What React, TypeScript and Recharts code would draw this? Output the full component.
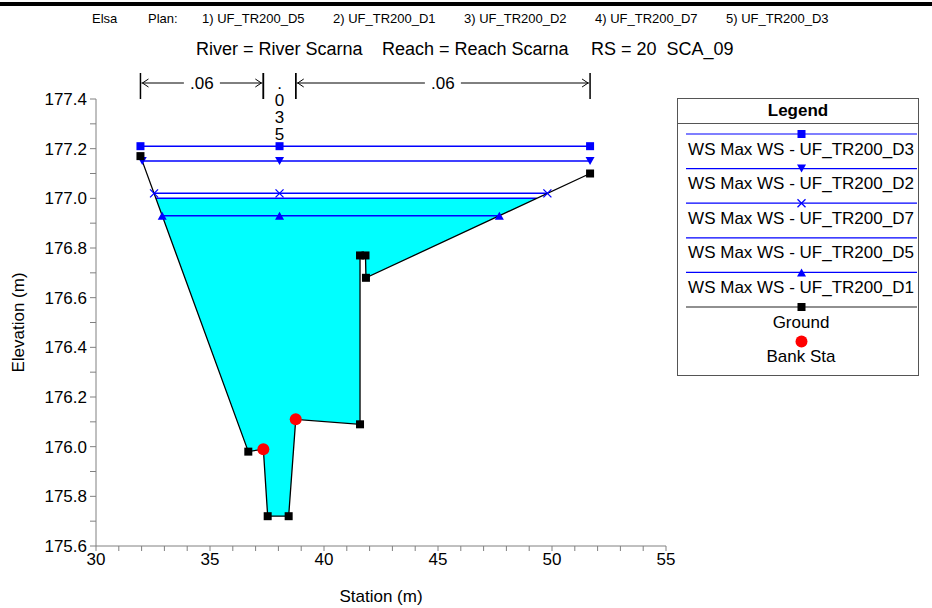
import React from 'react';
import { ComposedChart, Line, Area, XAxis, YAxis, ReferenceLine } from 'recharts';

const FONT = 'Arial, "Liberation Sans", sans-serif';

const planNames = ['UF_TR200_D5', 'UF_TR200_D1', 'UF_TR200_D2', 'UF_TR200_D7', 'UF_TR200_D3'];

// ground survey points: station (m) / elevation (m)
const groundStations = [31.95, 36.68, 37.34, 37.53, 38.45, 38.76, 41.58, 41.58, 41.82, 41.84, 51.67];
const groundElevations = [177.17, 175.98, 175.99, 175.72, 175.72, 176.11, 176.09, 176.77, 176.77, 176.68, 177.1];
const bankStations = [37.34, 38.76];

// max water surface of each plan, in legend order
const wsProfiles = ['UF_TR200_D3', 'UF_TR200_D2', 'UF_TR200_D7', 'UF_TR200_D5', 'UF_TR200_D1'];
const wsElevations = [177.21, 177.15, 177.02, 177.0, 176.93];
const wsMarkers = ['square', 'triangleDown', 'cross', 'none', 'triangleUp'];
const filledProfile = 'UF_TR200_D5';

// Manning's n: left overbank, channel, right overbank
const nValues = ['.06', '.035', '.06'];

const xTicks = [30, 31, 32, 33, 34, 35, 36, 37, 38, 39, 40, 41, 42, 43, 44, 45, 46, 47, 48, 49, 50, 51, 52, 53, 54, 55];
const yTicks = [175.6, 175.7, 175.8, 175.9, 176.0, 176.1, 176.2, 176.3, 176.4, 176.5, 176.6, 176.7, 176.8, 176.9, 177.0, 177.1, 177.2, 177.3, 177.4];

const WS_BLUE = '#0000ff';

const ground = groundStations.map((x, i) => ({ x, y: groundElevations[i], bank: bankStations.includes(x) }));
const banks = ground.filter((p) => p.bank);

// wetted part of the section for a water level (ground below ws + edge crossings)
function wetSection(ws: number) {
  const pts: { x: number; band: [number, number] }[] = [];
  for (let i = 0; i < ground.length; i++) {
    const p = ground[i];
    if (p.y <= ws) pts.push({ x: p.x, band: [p.y, ws] });
    const q = ground[i + 1];
    if (q && (p.y - ws) * (q.y - ws) < 0) {
      const x = p.x + ((ws - p.y) / (q.y - p.y)) * (q.x - p.x);
      pts.push({ x, band: [ws, ws] });
    }
  }
  return pts;
}

const channelMid = (bankStations[0] + bankStations[1]) / 2;

const wsLines = wsProfiles.map((name, i) => {
  const ws = wsElevations[i];
  const wet = wetSection(ws);
  return {
    name,
    marker: wsMarkers[i],
    data: [
      { x: wet[0].x, y: ws },
      { x: channelMid, y: ws },
      { x: wet[wet.length - 1].x, y: ws },
    ],
  };
});

const fillData = wetSection(wsElevations[wsProfiles.indexOf(filledProfile)]);

const nBreaks = [groundStations[0], bankStations[0], bankStations[1], groundStations[groundStations.length - 1]];
const nZones = nValues.map((label, i) => ({ from: nBreaks[i], to: nBreaks[i + 1], label }));

function Marker({ kind, cx, cy, color }: any) {
  if (cx == null || cy == null) return <g />;
  if (kind === 'square') return <rect x={cx - 4} y={cy - 4} width={8} height={8} fill={color} />;
  if (kind === 'triangleDown')
    return <path d={`M${cx - 4.5},${cy - 4} L${cx + 4.5},${cy - 4} L${cx},${cy + 4} Z`} fill={color} />;
  if (kind === 'triangleUp')
    return <path d={`M${cx - 4.5},${cy + 4} L${cx + 4.5},${cy + 4} L${cx},${cy - 4} Z`} fill={color} />;
  if (kind === 'cross')
    return (
      <path
        d={`M${cx - 4},${cy - 4} L${cx + 4},${cy + 4} M${cx - 4},${cy + 4} L${cx + 4},${cy - 4}`}
        stroke={color}
        strokeWidth={1.3}
        fill="none"
      />
    );
  if (kind === 'circle') return <circle cx={cx} cy={cy} r={6} fill={color} />;
  return <g />;
}

function NZone(props: any) {
  const { x1, x2, y1, label } = props;
  const left = Math.min(x1, x2);
  const right = Math.max(x1, x2);
  const top = y1 - 26;
  const ay = y1 - 16;
  const mid = (left + right) / 2;
  const wide = right - left > 50;
  return (
    <g>
      <line x1={left} x2={left} y1={top} y2={y1} stroke="#000" strokeWidth={1.5} />
      <line x1={right} x2={right} y1={top} y2={y1} stroke="#000" strokeWidth={1.5} />
      {wide ? (
        <g>
          <path d={`M${left + 1},${ay} H${mid - 18} M${mid + 18},${ay} H${right - 1}`} stroke="#000" strokeWidth={1} />
          <path d={`M${left + 8},${ay - 4} L${left + 2},${ay} L${left + 8},${ay + 4}`} stroke="#000" fill="none" />
          <path d={`M${right - 8},${ay - 4} L${right - 2},${ay} L${right - 8},${ay + 4}`} stroke="#000" fill="none" />
          <text x={mid} y={ay} textAnchor="middle" dominantBaseline="central" fontSize={17} fill="#000">
            {label}
          </text>
        </g>
      ) : (
        label.split('').map((c: string, k: number) => (
          <text key={k} x={mid} y={ay + k * 17.3} textAnchor="middle" dominantBaseline="central" fontSize={17} fill="#000">
            {c}
          </text>
        ))
      )}
    </g>
  );
}

function LegendBox() {
  const rowY = (i: number) => 36 + i * 34.6;
  return (
    <svg width={244} height={280} style={{ position: 'absolute', left: 677, top: 98 }}>
      <rect x={0.5} y={0.5} width={241} height={277} fill="#fff" stroke="#555" strokeWidth={1} />
      <text x={121} y={12.5} textAnchor="middle" dominantBaseline="central" fontSize={17} fontWeight="bold" fill="#000">
        Legend
      </text>
      <line x1={0.5} x2={241.5} y1={25.5} y2={25.5} stroke="#555" />
      {wsLines.map((w, i) => (
        <g key={w.name}>
          <line x1={9} x2={240} y1={rowY(i)} y2={rowY(i)} stroke={WS_BLUE} strokeWidth={1.2} />
          <Marker kind={w.marker} cx={124.5} cy={rowY(i)} color={WS_BLUE} />
          <text x={124} y={rowY(i) + 15} textAnchor="middle" dominantBaseline="central" fontSize={17} fill="#000">
            {`WS Max WS - ${w.name}`}
          </text>
        </g>
      ))}
      <line x1={9} x2={240} y1={rowY(5)} y2={rowY(5)} stroke="#222" strokeWidth={1.2} />
      <Marker kind="square" cx={124.5} cy={rowY(5)} color="#000" />
      <text x={124} y={rowY(5) + 15} textAnchor="middle" dominantBaseline="central" fontSize={17} fill="#000">
        Ground
      </text>
      <Marker kind="circle" cx={124.5} cy={rowY(6)} color="#ff0000" />
      <text x={124} y={rowY(6) + 15} textAnchor="middle" dominantBaseline="central" fontSize={17} fill="#000">
        Bank Sta
      </text>
    </svg>
  );
}

export default function App() {
  const yTop = yTicks[yTicks.length - 1];
  return (
    <div
      style={{
        position: 'absolute',
        left: 0,
        top: 0,
        width: 932,
        height: 608,
        background: '#fff',
        fontFamily: FONT,
        color: '#000',
        overflow: 'hidden',
      }}
    >
      <div style={{ position: 'absolute', left: 0, top: 2, width: 932, height: 4, background: '#000' }} />
      <div style={{ position: 'absolute', left: 92, top: 11, fontSize: 13, whiteSpace: 'pre' }}>Elsa</div>
      <div style={{ position: 'absolute', left: 148, top: 11, fontSize: 13, whiteSpace: 'pre' }}>Plan:</div>
      {planNames.map((p, i) => (
        <div key={p} style={{ position: 'absolute', left: 202 + i * 131, top: 11, fontSize: 13, whiteSpace: 'pre' }}>
          {`${i + 1}) ${p}`}
        </div>
      ))}
      <div style={{ position: 'absolute', left: 196, top: 39, fontSize: 18, whiteSpace: 'pre' }}>River = River Scarna</div>
      <div style={{ position: 'absolute', left: 382, top: 39, fontSize: 18, whiteSpace: 'pre' }}>Reach = Reach Scarna</div>
      <div style={{ position: 'absolute', left: 591, top: 39, fontSize: 18, whiteSpace: 'pre' }}>RS = 20  SCA_09</div>

      <ComposedChart
        width={932}
        height={608}
        margin={{ top: 99, right: 266, bottom: 0, left: 0 }}
        style={{ position: 'absolute', left: 0, top: 0 }}
      >
        <XAxis
          type="number"
          dataKey="x"
          domain={[30, 55]}
          ticks={xTicks}
          interval={0}
          allowDataOverflow
          height={62}
          stroke="#808080"
          tickSize={5}
          tick={{ fill: '#000', fontSize: 17 }}
          tickFormatter={(v: number) => (v % 5 === 0 ? String(v) : '')}
          label={{ value: 'Station (m)', position: 'insideBottom', offset: 6, fill: '#000', fontSize: 17 }}
        />
        <YAxis
          type="number"
          domain={[175.6, 177.4]}
          ticks={yTicks}
          interval={0}
          allowDataOverflow
          width={96}
          stroke="#808080"
          tickSize={6}
          tickMargin={3}
          tick={{ fill: '#000', fontSize: 17 }}
          tickFormatter={(v: number) => (Math.round(v * 10) % 2 === 0 ? v.toFixed(1) : '')}
          label={{
            value: 'Elevation (m)',
            angle: -90,
            position: 'insideLeft',
            offset: 18,
            fill: '#000',
            fontSize: 17,
            style: { textAnchor: 'middle' },
          }}
        />
        <Area
          data={fillData}
          dataKey="band"
          type="linear"
          fill="#00ffff"
          fillOpacity={1}
          stroke="none"
          isAnimationActive={false}
        />
        {wsLines.map((w) => (
          <Line
            key={w.name}
            data={w.data}
            dataKey="y"
            type="linear"
            stroke={WS_BLUE}
            strokeWidth={1.5}
            isAnimationActive={false}
            dot={
              w.marker === 'none'
                ? false
                : (p: any) => <Marker key={`${w.name}-${p.index}`} kind={w.marker} cx={p.cx} cy={p.cy} color={WS_BLUE} />
            }
            activeDot={false}
          />
        ))}
        <Line
          data={ground}
          dataKey="y"
          type="linear"
          stroke="#000"
          strokeWidth={1.3}
          isAnimationActive={false}
          dot={(p: any) =>
            p.payload.bank ? <g key={`g-${p.index}`} /> : <Marker key={`g-${p.index}`} kind="square" cx={p.cx} cy={p.cy} color="#000" />
          }
          activeDot={false}
        />
        <Line
          data={banks}
          dataKey="y"
          type="linear"
          stroke="none"
          isAnimationActive={false}
          dot={(p: any) => <Marker key={`b-${p.index}`} kind="circle" cx={p.cx} cy={p.cy} color="#ff0000" />}
          activeDot={false}
        />
        {nZones.map((z, i) => (
          <ReferenceLine
            key={`n-${i}`}
            segment={[
              { x: z.from, y: yTop },
              { x: z.to, y: yTop },
            ]}
            ifOverflow="visible"
            shape={(p: any) => <NZone {...p} label={z.label} />}
          />
        ))}
      </ComposedChart>
      <LegendBox />
    </div>
  );
}
